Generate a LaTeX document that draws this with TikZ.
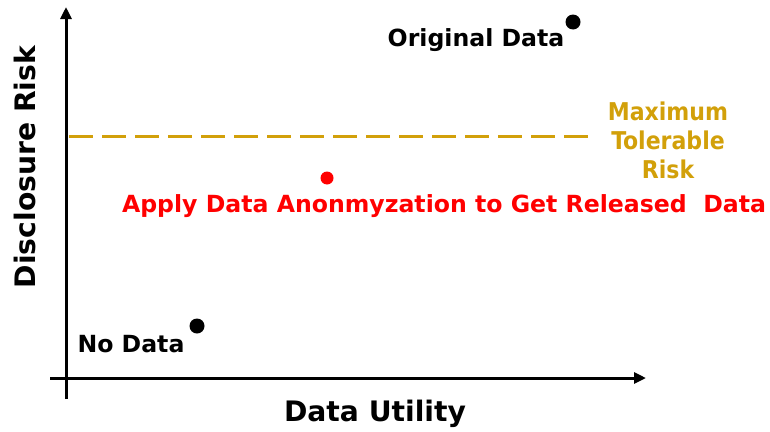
\documentclass[tikz,border=0pt]{standalone}
\usepackage{fontspec}
\setmainfont{DejaVu Sans}
\newfontfamily\condfont{DejaVu Sans Condensed}
\usetikzlibrary{arrows.meta}
\definecolor{riskgold}{RGB}{210,160,10}
\definecolor{anonred}{RGB}{255,0,0}
\tikzset{
  axis/.style={line width=3pt,-{Triangle[length=12pt,width=11pt]}},
  datadot/.style={circle,fill=black,inner sep=0pt,minimum size=15pt},
  lbl/.style={font=\bfseries\fontsize{23.6}{27}\selectfont,inner sep=0pt},
  axlbl/.style={font=\bfseries\fontsize{28.2}{33}\selectfont,inner sep=0pt},
}
\begin{document}
\begin{tikzpicture}[x=1pt,y=-1pt]
  \useasboundingbox (0,0) rectangle (770,431);
  % axes
  \coordinate (ybot) at (66,399);
  \coordinate (ytop) at (66,7);
  \coordinate (xleft) at (50,378);
  \coordinate (xright) at (646,378);
  \draw[axis] (ybot) -- (ytop);
  \draw[axis] (xleft) -- (xright);
  % maximum tolerable risk threshold
  \coordinate (th0) at (69,136);
  \coordinate (th1) at (592,136);
  \draw[riskgold,line width=3pt,dash pattern=on 24pt off 9pt] (th0) -- (th1);
  \node[inner sep=0pt,riskgold,align=center,font=\condfont\bfseries\fontsize{24.5}{29}\selectfont] (mtr) at (668,140) {Maximum\\Tolerable\\Risk};
  % data points
  \node[datadot] (orig) at (573,22) {};
  \node[lbl] (origlbl) at (476,40) {Original Data};
  \node[datadot,fill=anonred,minimum size=13pt] (rel) at (327,178) {};
  \node[lbl,text=anonred] (rellbl) at (444,206) {Apply Data Anonmyzation to Get Released\ \ Data};
  \node[datadot] (none) at (197,326) {};
  \node[lbl] (nonelbl) at (131,344) {No Data};
  % axis titles
  \node[axlbl,rotate=90] (ytitle) at (25,167) {Disclosure Risk};
  \node[axlbl] (xtitle) at (375,414) {Data Utility};
\end{tikzpicture}
\end{document}
